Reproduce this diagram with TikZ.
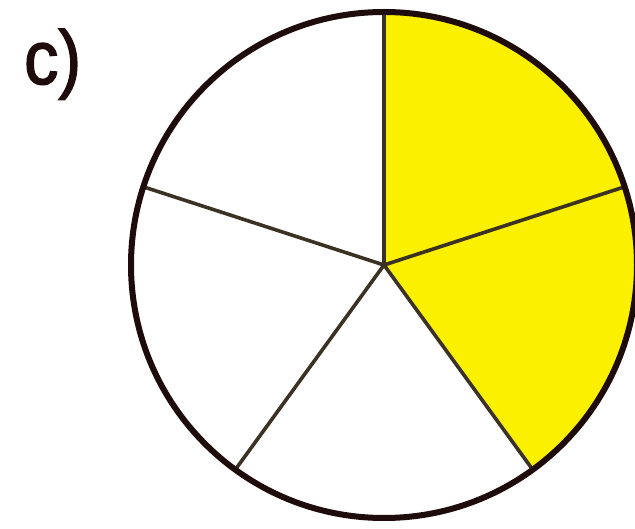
\documentclass[tikz,border=0pt]{standalone}
\usepackage{fontspec}
\setmainfont{Liberation Sans}
\newfontfamily\lblfont[FakeBold=2]{Liberation Sans}
\usetikzlibrary{calc}
\definecolor{piey}{RGB}{250,240,0}
\definecolor{rimc}{RGB}{30,12,12}
\definecolor{spokec}{RGB}{60,50,35}
\begin{document}
\begin{tikzpicture}[x=1pt,y=1pt,
  rim/.style={draw=rimc,line width=6pt},
  spoke/.style={draw=spokec,line width=3.6pt},
  lbl/.style={font=\lblfont\fontsize{76}{76}\selectfont,inner sep=0pt,xscale=0.9}]
\useasboundingbox (0,0) rectangle (635,528);
\coordinate (o) at (384,263);
\def\R{253}
\fill[piey] (o) -- ++(90:\R) arc[start angle=90,end angle=-54,radius=\R] -- cycle;
\foreach \a/\n in {90/p1,18/p2,-54/p3,-126/p4,162/p5}{
  \coordinate (\n) at ($(o)+(\a:\R)$);
}
\foreach \n in {p1,p2,p3,p4,p5}{\draw[spoke] (o) -- (\n);}
\draw[rim] (o) circle[radius=\R];
\node[lbl,anchor=base west,text=rimc] (lab) at (24,444) {c)};
\end{tikzpicture}
\end{document}
